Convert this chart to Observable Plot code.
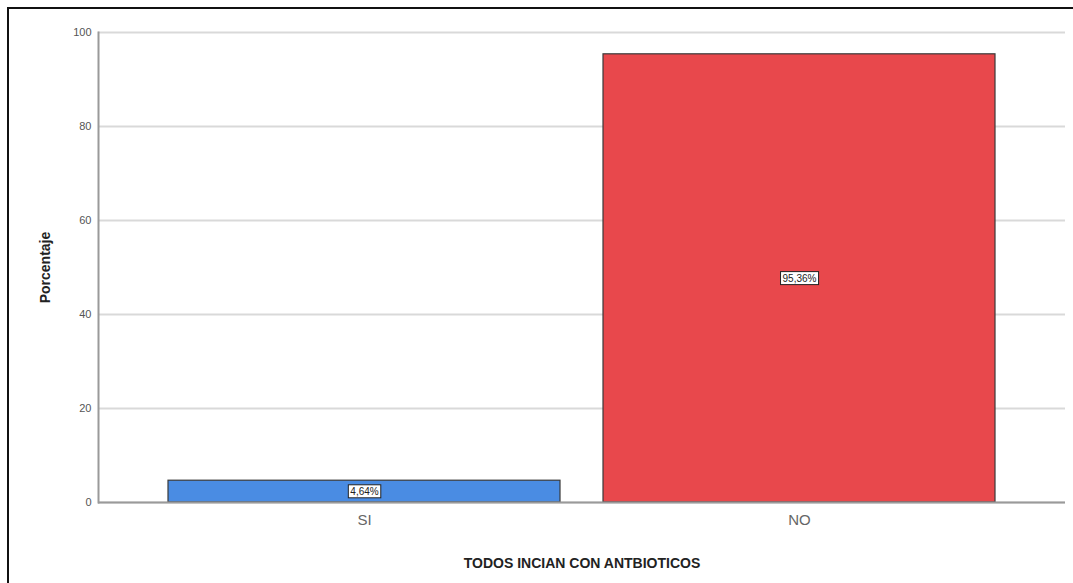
<!DOCTYPE html>
<html>
<head>
<meta charset="utf-8">
<script src="https://cdn.jsdelivr.net/npm/d3@7"></script>
<script src="https://cdn.jsdelivr.net/npm/@observablehq/plot@0.6"></script>
<style>
  html, body { margin: 0; padding: 0; background: #fff; overflow: hidden; }
  #wrap { position: relative; width: 1073px; height: 583px; overflow: hidden; }
  #frame { position: absolute; left: 7px; top: 7px; width: 1100px; height: 600px;
           border-left: 2px solid #111; border-top: 2px solid #111; }
  #chart { position: absolute; left: 0; top: 0; }
  #chart svg { font-family: "Liberation Sans", Arial, sans-serif; }
</style>
</head>
<body>
<div id="wrap">
  <div id="frame"></div>
  <div id="chart"></div>
</div>
<script>
// Respuestas a la pregunta y su porcentaje
const categorias = ["SI", "NO"];
const porcentajes = [4.64, 95.36];
const colores = ["#4a8ce3", "#e8484c"];
const ticksY = [0, 20, 40, 60, 80, 100];

const datos = categorias.map((c, i) => ({categoria: c, valor: porcentajes[i], color: colores[i]}));
const fmt = v => v.toFixed(2).replace(".", ",") + "%";

const plot = Plot.plot({
  width: 1073,
  height: 583,
  marginTop: 32,
  marginBottom: 81,
  marginLeft: 98,
  marginRight: 8,
  style: {fontFamily: "Liberation Sans, Arial, sans-serif", background: "transparent", color: "#555"},
  x: {domain: categorias, paddingInner: 0.1, paddingOuter: 0.16},
  y: {domain: [0, 100]},
  marks: [
    Plot.gridY(ticksY, {stroke: "#d9d9d9", strokeOpacity: 1, strokeWidth: 2}),
    Plot.axisY(ticksY, {
      tickSize: 0, tickPadding: 7, fontSize: 11, fill: "#555",
      label: "Porcentaje", labelAnchor: "center", labelOffset: 58, labelArrow: "none"
    }),
    Plot.axisX({
      tickSize: 0, tickPadding: 12, fontSize: 15, fill: "#666",
      label: "TODOS INCIAN CON ANTBIOTICOS", labelAnchor: "center", labelOffset: 65, labelArrow: "none"
    }),
    Plot.barY(datos, {x: "categoria", y: "valor", fill: "color", stroke: "#3a3a3a", strokeWidth: 1.2}),
    Plot.frame({anchor: "left", stroke: "#9a9a9a", strokeWidth: 2}),
    Plot.ruleY([0], {stroke: "#9a9a9a", strokeWidth: 2}),
    Plot.text(datos, {
      x: "categoria", y: d => d.valor / 2, text: d => fmt(d.valor),
      fontSize: 10, fill: "#222", className: "etiqueta"
    })
  ]
});

document.getElementById("chart").appendChild(plot);

// Style the axis titles
plot.querySelectorAll("[aria-label='y-axis label'] text, [aria-label='x-axis label'] text").forEach(t => {
  t.setAttribute("font-weight", "bold");
  t.setAttribute("font-size", "14");
  t.setAttribute("fill", "#222");
});

// Boxed value labels: white rectangle with dark border behind each text
plot.querySelectorAll("g.etiqueta text").forEach(t => {
  const b = t.getBBox();
  const r = document.createElementNS("http://www.w3.org/2000/svg", "rect");
  r.setAttribute("x", b.x - 2);
  r.setAttribute("y", b.y - 1);
  r.setAttribute("width", b.width + 4);
  r.setAttribute("height", b.height + 2);
  r.setAttribute("fill", "#fff");
  r.setAttribute("stroke", "#222");
  r.setAttribute("stroke-width", "1");
  const tr = t.getAttribute("transform");
  if (tr) r.setAttribute("transform", tr);
  t.parentNode.insertBefore(r, t);
});
</script>
</body>
</html>
